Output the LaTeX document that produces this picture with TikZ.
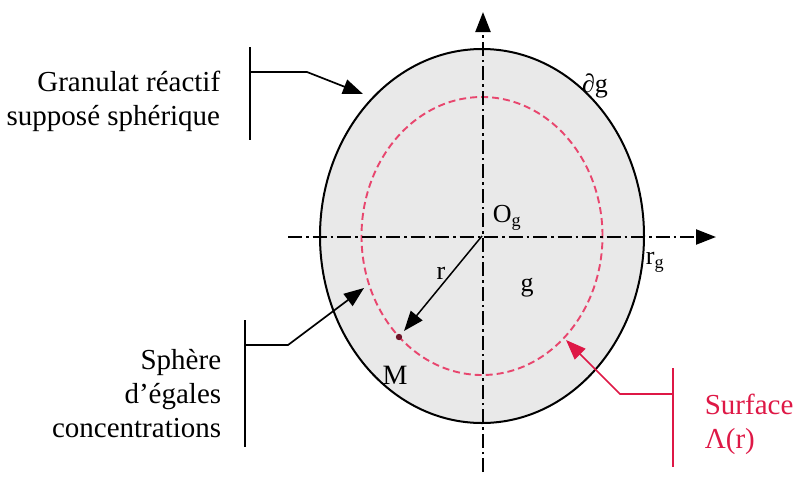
\documentclass[tikz,border=0pt]{standalone}
\usepackage{fontspec}
\setmainfont{Liberation Serif}
\usetikzlibrary{arrows.meta}
\definecolor{surfRed}{RGB}{222,24,70}
\definecolor{dashRed}{RGB}{232,70,110}
\definecolor{grainGray}{RGB}{233,233,233}
\definecolor{dotRed}{RGB}{110,20,40}

\begin{document}
\begin{tikzpicture}[x=1pt, y=-1pt, line width=1.7pt,
    axe/.style={line width=2.2pt, dash pattern=on 14pt off 4pt on 2.5pt off 4pt, -{Triangle[length=20pt,width=15pt]}},
    fleche/.style={-{Triangle[length=20pt,width=15pt]}},
    lbl/.style={font=\fontsize{29}{34}\selectfont, inner sep=0pt},
    sym/.style={font=\fontsize{26}{30}\selectfont, inner sep=0pt}]
    \useasboundingbox (0,0) rectangle (793,483);
    \coordinate (O) at (482,236);
    \coordinate (M) at (399,337);
    % granulat et sphere d'egales concentrations
    \fill[grainGray] (O) ellipse [x radius=162pt, y radius=187pt];
    \draw[dashRed, line width=1.9pt, dash pattern=on 7pt off 4pt] (O) ellipse [x radius=120.5pt, y radius=139pt];
    % axes
    \coordinate (axeBas) at (483,472);
    \coordinate (axeHaut) at (483,12);
    \coordinate (axeG) at (288,237);
    \coordinate (axeD) at (716,237);
    \draw[axe] (axeBas) -- (axeHaut);
    \draw[axe] (axeG) -- (axeD);
    \draw[line width=2pt] (O) ellipse [x radius=162pt, y radius=187pt];
    % rayon r
    \coordinate (Mtip) at (404,331);
    \draw[fleche, line width=1.5pt] (O) -- (Mtip);
    \fill[dotRed] (M) circle (3.2pt);
    \node[sym] (dg) at (595,86) {∂g};
    \node[sym, anchor=west] (Og) at (492,218) {O\textsubscript{g}};
    \node[sym, anchor=west] (rg) at (645,262) {r\textsubscript{g}};
    \node[sym] (r) at (441,273) {r};
    \node[sym] (g) at (527,288) {g};
    \node[sym, font=\fontsize{28}{30}\selectfont] (Mlab) at (395,375) {M};
    % legende : granulat
    \node[lbl, anchor=east, align=right] (granulat) at (221,101) {Granulat réactif\\supposé sphérique};
    \coordinate (barGh) at (250,47);
    \coordinate (barGb) at (250,140);
    \coordinate (barGm) at (250,72);
    \coordinate (coudeG) at (307,72);
    \coordinate (tipGran) at (363,94);
    \draw (barGh) -- (barGb);
    \draw[fleche] (barGm) -- (coudeG) -- (tipGran);
    % legende : sphere
    \node[lbl, anchor=east, align=right] (sphere) at (222,394) {Sphère\\d'égales\\concentrations};
    \coordinate (barSh) at (245,320);
    \coordinate (barSb) at (245,447);
    \coordinate (barSm) at (245,345);
    \coordinate (coudeS) at (288,345);
    \coordinate (tipSph) at (364,288);
    \draw (barSh) -- (barSb);
    \draw[fleche] (barSm) -- (coudeS) -- (tipSph);
    % legende : surface
    \node[lbl, anchor=west, align=left, text=surfRed] (surface) at (704,424) {Surface\\Λ(r)};
    \coordinate (barRh) at (673,368);
    \coordinate (barRb) at (673,467);
    \coordinate (barRm) at (673,394);
    \coordinate (coudeR) at (620,394);
    \coordinate (tipSurf) at (566,340);
    \draw[surfRed] (barRh) -- (barRb);
    \draw[surfRed, fleche] (barRm) -- (coudeR) -- (tipSurf);
\end{tikzpicture}
\end{document}
